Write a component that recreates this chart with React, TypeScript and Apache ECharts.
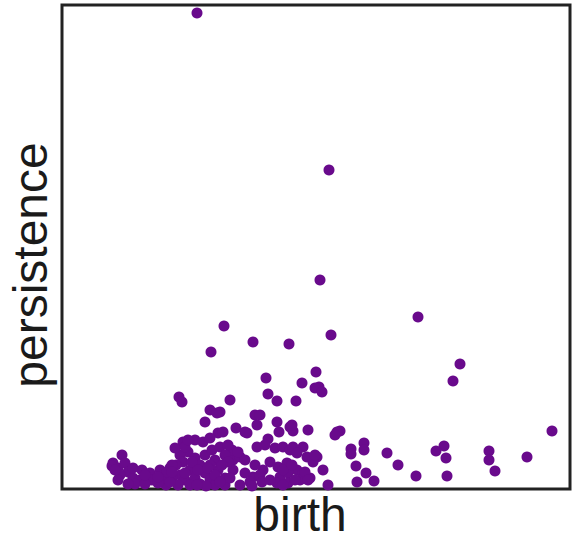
import React, { useEffect, useRef } from "react";
import * as echarts from "echarts";

// Points (birth, persistence), arbitrary units.
// Isolated points
const birthOutliers: number[] = [
  135, 267, 258, 269, 356, 162, 149, 191, 227, 398,
  391, 204, 254, 240, 257, 117, 120, 490, 465, 427,
  427, 433, 382, 374, 385, 384, 278, 289, 289, 302,
  302, 294, 295, 304, 312, 325, 336, 354,
];
const persistenceOutliers: number[] = [
  476, 319, 209, 154, 172, 163, 137, 147, 145, 125,
  108, 111, 117, 106, 102, 92, 87, 58, 32, 38,
  29, 18, 43, 38, 13, 31, 58, 40, 35, 46,
  39, 23, 7, 16, 8, 36, 24, 13,
];
// Middle cluster
const birthMiddle: number[] = [
  253, 260, 168, 206, 215, 234, 158, 193, 198, 195,
  174, 185, 215, 217, 228, 231, 246, 275, 273, 206,
  195, 213, 221, 228, 241, 255, 251, 171, 178, 165,
  201, 191, 235, 241, 238, 248, 261, 266, 230, 183,
  203, 216, 225, 218, 226, 215, 226, 183, 171, 183,
  198, 188, 200, 170, 176, 231, 235, 245, 253, 243,
  233, 246,
];
const persistenceMiddle: number[] = [
  101, 97, 89, 95, 88, 88, 77, 74, 74, 64,
  61, 56, 67, 57, 62, 58, 59, 57, 54, 50,
  42, 41, 42, 39, 42, 32, 27, 29, 32, 32,
  19, 12, 19, 16, 9, 11, 19, 4, 64, 57,
  44, 22, 26, 12, 16, 6, 6, 29, 19, 16,
  14, 7, 7, 39, 37, 42, 36, 32, 34, 17,
  9, 9,
];
// Left cluster
const birthLeft: number[] = [
  148, 155, 143, 156, 161, 121, 133, 141, 126, 118,
  121, 133, 143, 150, 158, 166, 163, 153, 138, 128,
  118, 110, 123, 133, 143, 148, 156, 163, 116, 128,
  138, 153, 163, 108, 114, 166, 148, 104,
];
const persistenceLeft: number[] = [
  79, 76, 67, 56, 57, 47, 49, 47, 37, 34,
  27, 31, 34, 39, 42, 44, 34, 29, 24, 19,
  14, 11, 9, 11, 16, 9, 19, 11, 4, 4,
  5, 4, 4, 21, 24, 27, 24, 4,
];
// Left tail
const birthTail: number[] = [
  60, 51, 56, 63, 66, 58, 71, 78, 80, 88,
  98, 90, 73, 66, 103, 108, 50, 71, 105, 110,
  56, 83, 96,
];
const persistenceTail: number[] = [
  34, 26, 21, 26, 17, 14, 11, 9, 19, 16,
  19, 9, 5, 5, 11, 7, 23, 21, 17, 24,
  9, 5, 6,
];
// Dense bottom band (overlapping points)
const birthDense: number[] = [
  113, 123, 130, 136, 146, 153, 160, 168, 123, 110,
  144, 158, 135, 126, 148, 208, 221, 208, 230, 221,
  193, 178, 190, 83, 96, 53,
];
const persistenceDense: number[] = [
  41, 42, 27, 19, 21, 14, 24, 11, 16, 17,
  3, 7, 4, 49, 51, 27, 19, 9, 24, 4,
  24, 4, 3, 14, 12, 19,
];

const birth = [...birthOutliers, ...birthMiddle, ...birthLeft, ...birthTail, ...birthDense];
const persistence = [
  ...persistenceOutliers,
  ...persistenceMiddle,
  ...persistenceLeft,
  ...persistenceTail,
  ...persistenceDense,
];

const PURPLE = "#690a8c";
const FRAME = "#222";

const W = 576;
const H = 539;

export default function App() {
  const ref = useRef<HTMLDivElement>(null);
  useEffect(() => {
    if (!ref.current) return;
    const chart = echarts.init(ref.current, undefined, { renderer: "svg" });
    const data = birth.map((b, i) => [b, persistence[i]]);
    const hidden = {
      axisLine: { show: false },
      axisTick: { show: false },
      axisLabel: { show: false },
      splitLine: { show: false },
    };
    chart.setOption({
      animation: false,
      grid: {
        left: 62,
        top: 5,
        right: 6,
        bottom: 50,
        show: true,
        borderColor: FRAME,
        borderWidth: 3,
        backgroundColor: "transparent",
      },
      xAxis: { type: "value", min: 0, max: 508, ...hidden },
      yAxis: { type: "value", min: 0, max: 484, ...hidden },
      series: [
        {
          type: "scatter",
          data,
          symbolSize: 11,
          itemStyle: { color: PURPLE, opacity: 1 },
          clip: false,
        },
      ],
      graphic: [
        {
          type: "text",
          x: 300,
          y: 514,
          style: {
            text: "birth",
            fontSize: 48,
            fontFamily: "Liberation Sans, Arial, sans-serif",
            fill: "#1a1a1a",
            align: "center",
            verticalAlign: "middle",
          },
        },
        {
          type: "text",
          x: 30,
          y: 265,
          rotation: Math.PI / 2,
          style: {
            text: "persistence",
            fontSize: 48,
            fontFamily: "Liberation Sans, Arial, sans-serif",
            fill: "#1a1a1a",
            align: "center",
            verticalAlign: "middle",
          },
        },
      ],
    });
    return () => chart.dispose();
  }, []);
  return (
    <div
      ref={ref}
      style={{ position: "fixed", left: 0, top: 0, width: W, height: H, background: "#fff" }}
    />
  );
}
